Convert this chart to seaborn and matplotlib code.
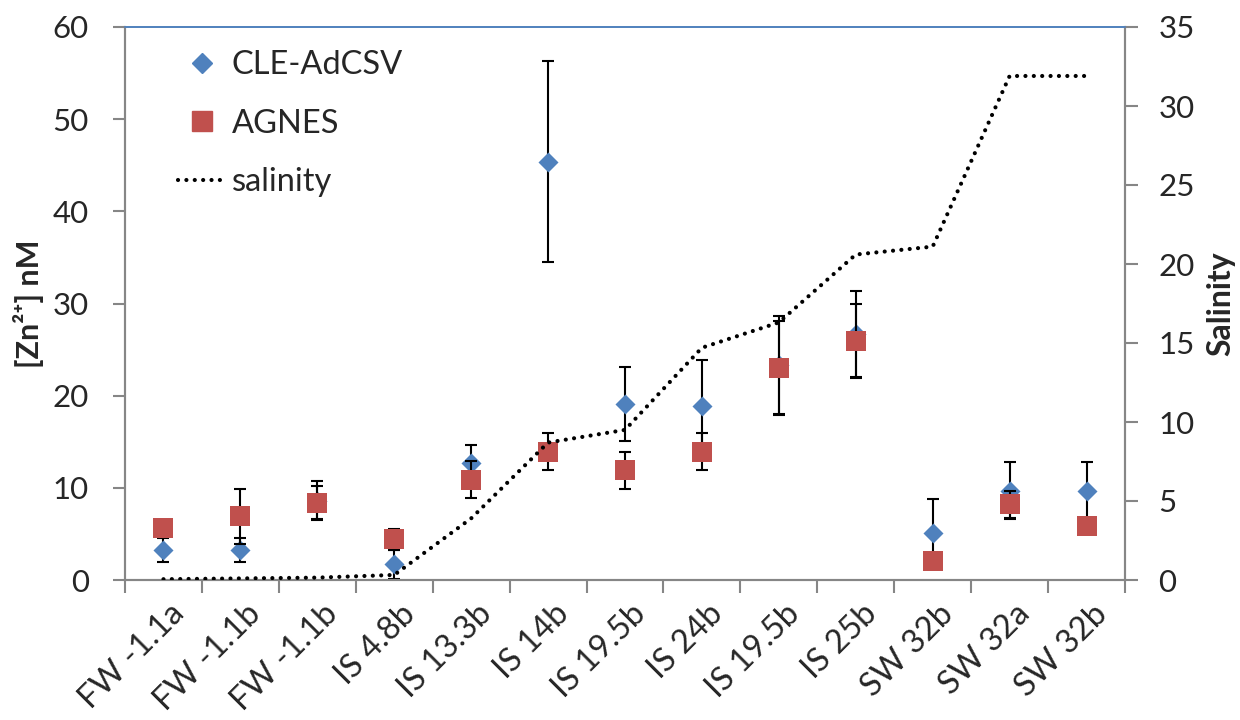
import numpy as np
import pandas as pd
import matplotlib
matplotlib.use("Agg")
import matplotlib.pyplot as plt
from matplotlib.lines import Line2D
from matplotlib.transforms import ScaledTranslation
import seaborn as sns

# Sample stations along the salinity gradient
stations = ["FW -1.1a", "FW -1.1b", "FW -1.1b", "IS 4.8b", "IS 13.3b", "IS 14b",
            "IS 19.5b", "IS 24b", "IS 19.5b", "IS 25b", "SW 32b", "SW 32a", "SW 32b"]

# Free zinc by CLE-AdCSV (nM) and its uncertainty
cle_zn = [3.3, 3.3, 8.6, 1.7, 12.7, 45.4, 19.1, 18.9, 23.3, 26.7, 5.1, 9.7, 9.7]
cle_err = [1.3, 1.3, 2.1, 1.6, 2.0, 10.9, 4.0, 5.0, 5.3, 4.7, 3.7, 3.1, 3.1]

# Free zinc by AGNES (nM) and its uncertainty
agnes_zn = [5.6, 6.9, 8.4, 4.4, 10.9, 13.9, 11.9, 13.9, 23.0, 25.9, 2.1, 8.2, 5.9]
agnes_err = [0.0, 3.0, 1.8, 1.1, 2.0, 2.0, 2.0, 2.0, 5.1, 4.0, 0.0, 1.5, 0.0]

# Salinity at each station
salinity = [0.05, 0.1, 0.15, 0.32, 3.9, 8.7, 9.5, 14.7, 16.3, 20.6, 21.1, 31.9, 31.9]

BLUE = "#4F81BD"
RED = "#C0504D"
GREY = "#868686"

sns.set_style("white")
plt.rcParams["font.family"] = ["Lato", "DejaVu Sans"]

pos = np.arange(len(stations))
df = pd.DataFrame({"pos": pos, "cle": cle_zn, "cle_err": cle_err,
                   "agnes": agnes_zn, "agnes_err": agnes_err, "sal": salinity})

fig = plt.figure(figsize=(12.4, 7.2), dpi=100)
ax = fig.add_axes([125 / 1240, 140 / 720, 1000 / 1240, 553 / 720])

# CLE-AdCSV
ax.errorbar(df["pos"], df["cle"], yerr=df["cle_err"], fmt="none", ecolor="black",
            elinewidth=1.5, capsize=4.3, capthick=1.5, zorder=2)
sns.scatterplot(data=df, x="pos", y="cle", ax=ax, marker="D", s=104, color=BLUE,
                linewidth=0, zorder=3, legend=False)

# AGNES
ax.errorbar(df["pos"], df["agnes"], yerr=df["agnes_err"], fmt="none", ecolor="black",
            elinewidth=1.5, capsize=4.3, capthick=1.5, zorder=4)
sns.scatterplot(data=df, x="pos", y="agnes", ax=ax, marker="s", s=207, color=RED,
                linewidth=0, zorder=5, legend=False)

ax.set_xlim(-0.5, len(stations) - 0.5)
ax.set_ylim(0, 60)
ax.set_yticks(np.arange(0, 61, 10))

# Category boundaries carry the tick marks, centres carry the labels
ax.set_xticks(np.arange(-0.5, len(stations), 1.0))
ax.set_xticklabels([])
ax.set_xticks(pos, minor=True)
ax.set_xticklabels(stations, minor=True, rotation=45, ha="right",
                   rotation_mode="anchor", va="center", fontsize=23.5)
ax.tick_params(axis="x", which="major", direction="out", length=9, width=1.5,
               color=GREY, bottom=True)
ax.tick_params(axis="x", which="minor", length=0, pad=21)
for lab in ax.get_xticklabels(minor=True):
    lab.set_transform(lab.get_transform() + ScaledTranslation(0.16, 0, fig.dpi_scale_trans))

ax.tick_params(axis="y", direction="out", length=9, width=1.5, color=GREY,
               labelsize=22.5, pad=17, left=True)
ax.set_xlabel("")
ax.set_ylabel("[Zn\u00b2\u207a] nM", fontsize=22, fontweight="bold", labelpad=6)

for side in ["left", "bottom", "right"]:
    ax.spines[side].set_color(GREY)
    ax.spines[side].set_linewidth(1.5)
ax.spines["top"].set_color(BLUE)
ax.spines["top"].set_linewidth(1.2)

# Salinity on the secondary axis
ax2 = ax.twinx()
sns.lineplot(data=df, x="pos", y="sal", ax=ax2, color="black", linewidth=3,
             linestyle=(0, (0.01, 2.0)), dash_capstyle="round", zorder=6)
ax2.set_ylim(0, 35)
ax2.set_yticks(np.arange(0, 36, 5))
ax2.tick_params(axis="y", direction="out", length=9, width=1.5, color=GREY,
                labelsize=22.5, pad=15, right=True)
ax2.set_ylabel("Salinity", fontsize=23, fontweight="bold", labelpad=8)
ax2.set_xlabel("")
for side in ["left", "bottom", "right"]:
    ax2.spines[side].set_color(GREY)
    ax2.spines[side].set_linewidth(1.5)
ax2.spines["top"].set_color(BLUE)
ax2.spines["top"].set_linewidth(1.2)

handles = [
    Line2D([], [], marker="D", markersize=10.2, color=BLUE, linestyle="none"),
    Line2D([], [], marker="s", markersize=14.4, color=RED, linestyle="none"),
    Line2D([], [], color="black", linewidth=3, linestyle=(0, (0.01, 2.0)),
           dash_capstyle="round"),
]
fig.legend(handles, ["CLE-AdCSV", "AGNES", "salinity"], loc="upper left",
           bbox_to_anchor=(178 / 1240, 1 - 50 / 720), frameon=False, fontsize=23.5,
           handlelength=1.45, handletextpad=0.2, labelspacing=0.88,
           borderpad=0, borderaxespad=0)

fig.savefig("out.png", dpi=100)
